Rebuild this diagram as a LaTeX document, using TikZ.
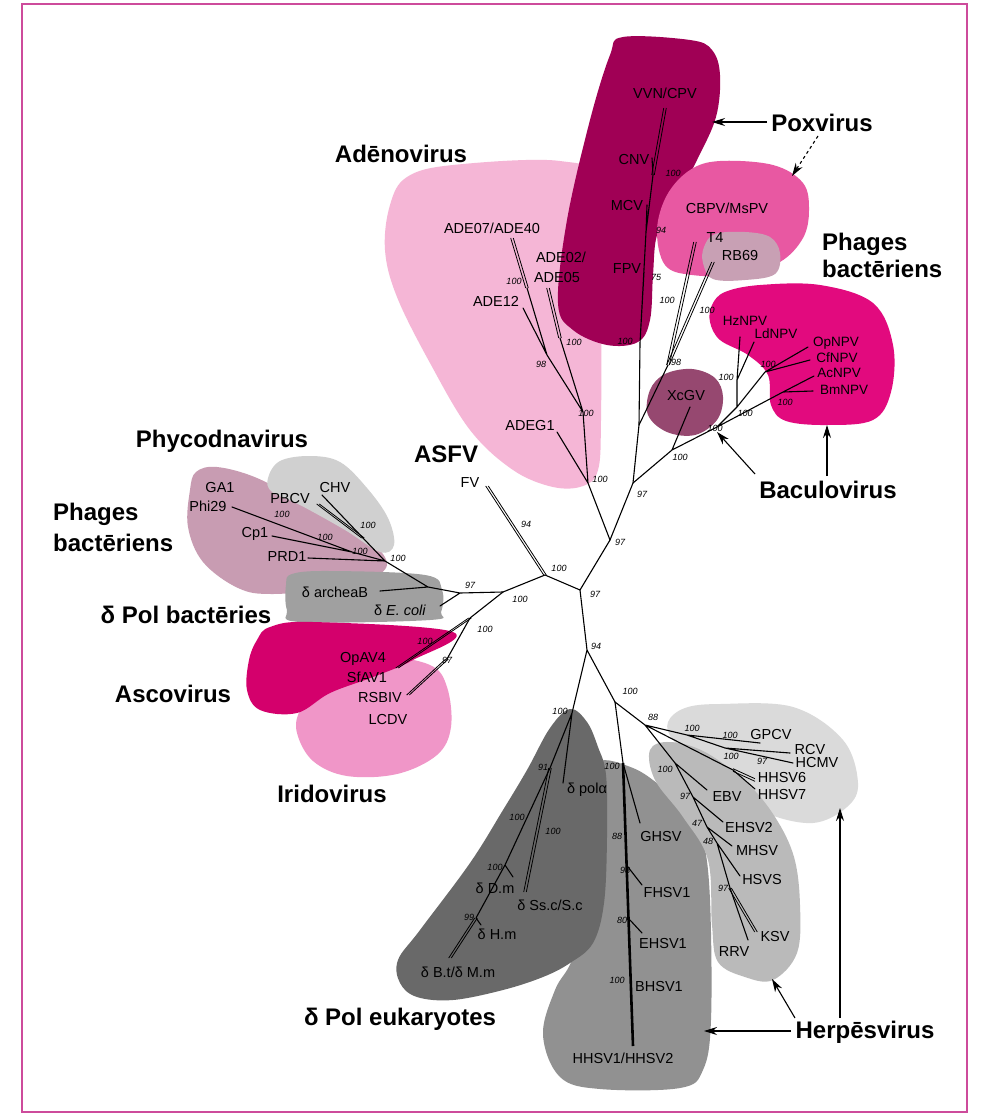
\documentclass[tikz,border=0pt]{standalone}
\usepackage{fontspec}
\setmainfont{Liberation Sans}
\usetikzlibrary{arrows.meta}
\definecolor{cAde}{RGB}{245,182,214}
\definecolor{cPox}{RGB}{160,0,85}
\definecolor{cCbp}{RGB}{232,88,162}
\definecolor{cTf}{RGB}{200,160,180}
\definecolor{cBac}{RGB}{226,10,126}
\definecolor{cXc}{RGB}{150,72,112}
\definecolor{cPhy}{RGB}{208,208,208}
\definecolor{cPhg}{RGB}{200,156,178}
\definecolor{cDpb}{RGB}{160,160,160}
\definecolor{cAsc}{RGB}{212,0,108}
\definecolor{cIri}{RGB}{240,150,200}
\definecolor{cEuk}{RGB}{105,105,105}
\definecolor{cAlp}{RGB}{145,145,145}
\definecolor{cBet}{RGB}{186,186,186}
\definecolor{cLig}{RGB}{218,218,218}
\definecolor{cFrame}{RGB}{205,75,155}
\newcommand{\dlx}[2]{\draw[twin] ([xshift=-1.3pt]#1) -- ([xshift=-1.3pt]#2); \draw[twin] ([xshift=1.3pt]#1) -- ([xshift=1.3pt]#2);}
\newcommand{\dly}[2]{\draw[twin] ([yshift=-1.3pt]#1) -- ([yshift=-1.3pt]#2); \draw[twin] ([yshift=1.3pt]#1) -- ([yshift=1.3pt]#2);}
\begin{document}
\begin{tikzpicture}[x=1pt,y=-1pt,
  tree/.style={line width=1.1pt,line cap=round},
  twin/.style={line width=0.8pt},
  thick2/.style={line width=2.6pt},
  bs/.style={font=\fontsize{9}{9}\selectfont\itshape,inner sep=0pt},
  leaf/.style={font=\fontsize{14.5}{14.5}\selectfont,inner sep=0pt},
  small/.style={font=\fontsize{13.5}{13.5}\selectfont,inner sep=0pt},
  big/.style={font=\fontsize{24}{28}\selectfont\bfseries,inner sep=0pt,anchor=base},
  arr/.style={line width=1.1pt,-{Stealth[length=13pt,width=8pt]}},
  blob/.style={smooth cycle,tension=0.6}]
\useasboundingbox (0,0) rectangle (987,1116);
\fill[white] (0,0) rectangle (987,1116);
\draw[cFrame,line width=2pt] (22,4) rectangle (967,1112);

% ---------- blobs ----------
\fill[cAde] plot[blob] coordinates {(390,205) (407,177) (453,165) (560,161) (598,185) (601,300) (601,420) (598,470) (583,486) (553,487) (513,470) (470,430) (430,363) (397,297) (385,250)};
\fill[cPox] plot[blob] coordinates {(623,37) (690,40) (712,50) (720,75) (716,117) (697,160) (673,207) (657,235) (653,275) (650,320) (638,342) (607,345) (573,330) (558,303) (567,220) (590,120) (610,55)};
\fill[cCbp] plot[blob] coordinates {(657,230) (667,195) (690,170) (720,161) (773,165) (803,183) (809,210) (803,238) (780,262) (740,275) (692,275) (665,265)};
\fill[cTf] plot[blob] coordinates {(704,247) (715,234) (745,232) (770,237) (780,253) (775,274) (745,280) (713,279) (703,263)};
\fill[cBac] plot[blob] coordinates {(712,305) (725,292) (760,285) (820,285) (873,303) (893,345) (891,392) (873,420) (827,425) (786,421) (771,405) (768,375) (748,355) (720,340) (710,322)};
\fill[cXc] plot[blob] coordinates {(650,390) (665,374) (692,369) (715,378) (723,397) (717,420) (695,435) (667,432) (648,415)};
\fill[cPhg] plot[blob] coordinates {(190,490) (196,472) (217,467) (257,478) (307,505) (350,530) (375,545) (387,565) (370,580) (340,588) (273,594) (238,588) (203,562) (188,527)};
\fill[cPhy] plot[blob] coordinates {(268,478) (280,461) (310,456) (340,462) (367,488) (388,518) (394,545) (380,552) (345,530) (300,505) (272,492)};
\fill[cDpb] plot[blob] coordinates {(292,574) (330,571) (425,575) (442,590) (441,612) (430,620) (300,622) (287,610) (286,585)};
\fill[cIri] plot[blob] coordinates {(300,710) (320,680) (347,666) (380,656) (430,665) (447,687) (451,727) (437,755) (397,774) (347,776) (313,761) (297,733)};
\fill[cAsc] plot[blob] coordinates {(257,640) (270,627) (313,622) (453,632) (413,660) (373,677) (330,693) (297,713) (260,710) (247,690) (249,660)};
\fill[cLig] plot[blob] coordinates {(668,722) (685,708) (720,704) (793,707) (843,740) (858,783) (847,807) (813,823) (767,813) (747,790) (700,762) (673,740)};
\fill[cAlp] plot[blob] coordinates {(598,762) (633,768) (662,787) (688,810) (703,840) (710,900) (711,1020) (703,1070) (680,1088) (600,1089) (560,1077) (543,1035) (555,990) (572,960) (590,900) (594,800)};
\fill[cBet] plot[blob] coordinates {(650,750) (670,742) (705,752) (747,783) (775,817) (794,857) (800,905) (797,953) (773,980) (745,977) (718,962) (712,925) (708,860) (683,817) (655,780)};
\fill[cEuk] plot[blob] coordinates {(570,709) (587,722) (598,747) (606,775) (607,837) (604,903) (593,943) (570,963) (543,977) (503,990) (453,1000) (417,997) (400,983) (398,960) (420,930) (470,863) (503,810) (527,770) (550,728)};

% ---------- tree coordinates ----------
\coordinate (C) at (610,540);  \coordinate (P) at (633,483);  \coordinate (q) at (639,425);
\coordinate (px1) at (640,343); \coordinate (px2) at (646,232); \coordinate (px3) at (653,175);
\coordinate (tVVN) at (665,108); \coordinate (tCNV) at (652,158); \coordinate (tMCV) at (647,205); \coordinate (tFPV) at (644,272);
\coordinate (t1) at (668,365); \coordinate (tT4) at (695,242); \coordinate (tRB) at (713,262);
\coordinate (b0) at (672,450); \coordinate (tXc) at (690,407); \coordinate (b1) at (717,427);
\coordinate (b2) at (737,407); \coordinate (b3) at (737,380); \coordinate (tHz) at (740,337); \coordinate (tLd) at (754,342);
\coordinate (b5) at (765,372); \coordinate (tOp) at (808,347); \coordinate (tCf) at (810,360);
\coordinate (b4) at (783,392); \coordinate (tAc) at (814,376); \coordinate (tBm) at (813,391);
\coordinate (ad0) at (588,483); \coordinate (tG1) at (557,432); \coordinate (ad1) at (583,412);
\coordinate (ad2) at (560,338); \coordinate (tA02) at (548,288); \coordinate (tA05) at (554,291);
\coordinate (ad3) at (547,355); \coordinate (tA12) at (523,308); \coordinate (ad4) at (527,288);
\coordinate (tA07) at (512,238); \coordinate (tA40) at (520,241);
\coordinate (B) at (580,590); \coordinate (A) at (545,575); \coordinate (tFV) at (487,486);
\coordinate (F) at (503,592); \coordinate (G) at (460,593); \coordinate (nl) at (428,587);
\coordinate (phy) at (385,561); \coordinate (ph1) at (363,538); \coordinate (tCHV) at (322,495); \coordinate (tPBCV) at (318,504);
\coordinate (ph3) at (352,552); \coordinate (tCp) at (272,536); \coordinate (tPhi) at (232,507); \coordinate (tPRD) at (308,558);
\coordinate (tArc) at (380,591); \coordinate (tEc) at (440,606);
\coordinate (H1) at (470,618); \coordinate (tOA) at (397,668); \coordinate (H3) at (447,659); \coordinate (tRS) at (408,695);
\coordinate (D) at (587,650); \coordinate (e0) at (572,713); \coordinate (E) at (615,702);
\coordinate (tpol) at (563,783); \coordinate (e1) at (550,768); \coordinate (tSs) at (525,892);
\coordinate (e4) at (505,865); \coordinate (tDm) at (513,877); \coordinate (e5) at (476,918);
\coordinate (tHm) at (481,925); \coordinate (tBt) at (450,958);
\coordinate (a1) at (623,763); \coordinate (tGH) at (640,823); \coordinate (a2) at (628,867); \coordinate (tFH) at (642,885);
\coordinate (a3) at (630,920); \coordinate (tEH) at (642,933); \coordinate (tHH) at (633,1046);
\coordinate (n88) at (645,725); \coordinate (g1) at (687,735); \coordinate (tGP) at (760,743);
\coordinate (g2) at (725,748); \coordinate (tRC) at (790,753); \coordinate (tHC) at (793,763);
\coordinate (g4) at (733,770); \coordinate (tH6) at (755,780); \coordinate (tH7) at (755,789);
\coordinate (h1) at (675,763); \coordinate (tEB) at (707,790); \coordinate (h2) at (693,797); \coordinate (tE2) at (723,822);
\coordinate (h3) at (707,827); \coordinate (tMH) at (732,846); \coordinate (h4) at (717,843); \coordinate (tHS) at (740,876);
\coordinate (h5) at (730,888); \coordinate (tKS) at (756,932); \coordinate (tRR) at (748,940);

% ---------- branches ----------
\draw[tree] (C) -- (P) (P) -- (q) (q) -- (px1) (px1) -- (tFPV) (px1) -- (px2) (px2) -- (tMCV) (px2) -- (px3) (px3) -- (tCNV);
\dlx{px3}{tVVN}
\draw[tree] (q) -- (t1);
\dlx{t1}{tT4} \dlx{t1}{tRB}
\draw[tree] (P) -- (b0) (b0) -- (tXc) (b0) -- (b1) (b1) -- (b2) (b2) -- (b3) (b3) -- (tHz) (b3) -- (tLd)
  (b2) -- (b5) (b5) -- (tOp) (b5) -- (tCf) (b1) -- (b4) (b4) -- (tAc) (b4) -- (tBm);
\draw[tree] (C) -- (ad0) (ad0) -- (tG1) (ad0) -- (ad1) (ad1) -- (ad2) (ad1) -- (ad3) (ad3) -- (tA12) (ad3) -- (ad4);
\dlx{ad2}{tA02} \dlx{ad4}{tA07}
\draw[tree] (C) -- (B) (B) -- (A) (A) -- (F) (F) -- (G) (G) -- (nl) (nl) -- (phy) (nl) -- (tArc) (G) -- (tEc)
  (phy) -- (ph1) (ph1) -- (tCHV) (phy) -- (ph3) (ph3) -- (tCp) (ph3) -- (tPhi) (phy) -- (tPRD);
\dlx{ph1}{tPBCV}
\dlx{A}{tFV}
\draw[tree] (F) -- (H1) (H1) -- (H3);
\dlx{H1}{tOA} \dlx{H3}{tRS}
\draw[tree] (B) -- (D) (D) -- (e0) (D) -- (E) (e0) -- (tpol) (e0) -- (e1) (e1) -- (e4) (e4) -- (tDm) (e4) -- (e5) (e5) -- (tHm);
\dlx{e1}{tSs} \dlx{e5}{tBt}
\draw[tree] (E) -- (a1) (a1) -- (tGH) (a2) -- (tFH) (a3) -- (tEH);
\draw[thick2] (a1) -- (tHH);
\draw[tree] (E) -- (n88) (n88) -- (g1) (g1) -- (tGP) (g1) -- (g2) (g2) -- (tRC) (g2) -- (tHC) (n88) -- (g4)
  (n88) -- (h1) (h1) -- (tEB) (h1) -- (h2) (h2) -- (tE2) (h2) -- (h3) (h3) -- (tMH) (h3) -- (h4) (h4) -- (tHS) (h4) -- (h5) (h5) -- (tRR);
\dly{g4}{tH6} \draw[tree] (g4) -- (tH7);
\dlx{h5}{tKS}

% ---------- bootstrap values ----------
\foreach \x/\y/\t in {673/173/100,661/230/94,656/277/75,667/300/100,707/310/100,625/341/100,676/362/98,
  768/364/100,726/377/100,785/402/100,745/413/100,715/428/100,680/457/100,
  514/281/100,574/342/100,541/364/98,586/413/100,600/479/100,
  642/494/97,620/542/97,595/594/97,559/568/100,526/524/94,520/599/100,470/585/97,485/629/100,447/660/97,425/641/100,
  282/514/100,368/525/100,325/537/100,360/551/100,398/558/100,
  596/646/94,630/691/100,653/717/88,692/728/100,730/735/100,731/756/100,762/761/97,665/769/100,685/796/97,697/823/47,708/841/48,723/888/97,
  612/766/100,617/836/88,625/870/98,622/920/80,617/980/100,
  560/711/100,543/767/91,517/817/100,553/831/100,495/867/100,469/917/99}
  \node[bs] (bv\x-\y) at (\x,\y) {\t};

% ---------- leaf labels ----------
\node[leaf] (LVVN) at (665,93) {VVN/CPV};
\node[leaf] (LCNV) at (634,160) {CNV};
\node[leaf] (LMCV) at (627,206) {MCV};
\node[leaf] (LFPV) at (627,269) {FPV};
\node[leaf] (LCBP) at (727,208) {CBPV/MsPV};
\node[leaf] (LT4) at (715,238) {T4};
\node[leaf] (LRB) at (740,256) {RB69};
\node[small] (LHz) at (745,321) {HzNPV};
\node[small] (LLd) at (776,334) {LdNPV};
\node[small] (LOp) at (836,343) {OpNPV};
\node[small] (LCf) at (837,358) {CfNPV};
\node[small] (LAc) at (839,373) {AcNPV};
\node[small] (LBm) at (844,390) {BmNPV};
\node[leaf] (LXc) at (686,396) {XcGV};
\node[leaf] (LA07) at (492,228) {ADE07/ADE40};
\node[leaf] (LA02) at (561,257) {ADE02/};
\node[leaf] (LA05) at (557,278) {ADE05};
\node[leaf] (LA12) at (496,301) {ADE12};
\node[leaf] (LG1) at (530,426) {ADEG1};
\node[leaf] (LFV) at (470,483) {FV};
\node[leaf] (LGA) at (220,488) {GA1};
\node[leaf] (LPhi) at (208,506) {Phi29};
\node[leaf] (LPB) at (290,499) {PBCV};
\node[leaf] (LCH) at (335,488) {CHV};
\node[leaf] (LCp) at (255,534) {Cp1};
\node[leaf] (LPR) at (287,557) {PRD1};
\node[leaf] (LArc) at (335,592) {δ archeaB};
\node[leaf] (LEc) at (400,610) {δ \textit{E. coli}};
\node[leaf] (LOA) at (363,659) {OpAV4};
\node[leaf] (LSf) at (367,677) {SfAV1};
\node[leaf] (LRS) at (380,697) {RSBIV};
\node[leaf] (LLC) at (388,719) {LCDV};
\node[leaf] (Lpol) at (587,790) {δ polα};
\node[leaf] (LDm) at (495,888) {δ D.m};
\node[leaf] (LSs) at (550,905) {δ Ss.c/S.c};
\node[leaf] (LHm) at (497,934) {δ H.m};
\node[leaf] (LBt) at (458,972) {δ B.t/δ M.m};
\node[leaf] (LGH) at (661,836) {GHSV};
\node[leaf] (LFH) at (667,892) {FHSV1};
\node[leaf] (LEH) at (663,943) {EHSV1};
\node[leaf] (LBH) at (659,986) {BHSV1};
\node[leaf] (LHH) at (623,1058) {HHSV1/HHSV2};
\node[leaf] (LGP) at (771,734) {GPCV};
\node[leaf] (LRC) at (810,749) {RCV};
\node[leaf] (LHC) at (817,762) {HCMV};
\node[leaf] (LH6) at (782,777) {HHSV6};
\node[leaf] (LH7) at (782,794) {HHSV7};
\node[leaf] (LEB) at (727,797) {EBV};
\node[leaf] (LE2) at (749,827) {EHSV2};
\node[leaf] (LMH) at (757,850) {MHSV};
\node[leaf] (LHS) at (762,879) {HSVS};
\node[leaf] (LKS) at (775,936) {KSV};
\node[leaf] (LRR) at (734,951) {RRV};

% ---------- group labels ----------
\node[big] (gPox) at (822,131) {Poxvirus};
\node[big] (gAde) at (401,162) {Adēnovirus};
\node[big,anchor=base west] (gPhA) at (822,250) {Phages};
\node[big,anchor=base west] (gPhB) at (822,277) {bactēriens};
\node[big] (gBac) at (828,498) {Baculovirus};
\node[big] (gPhy) at (222,447) {Phycodnavirus};
\node[big] (gAsf) at (446,462) {ASFV};
\node[big,anchor=base west] (gPlA) at (53,520) {Phages};
\node[big,anchor=base west] (gPlB) at (53,551) {bactēriens};
\node[big] (gDpb) at (186,623) {δ Pol bactēries};
\node[big] (gAsc) at (173,702) {Ascovirus};
\node[big] (gIri) at (332,802) {Iridovirus};
\node[big] (gEuk) at (400,1025) {δ Pol eukaryotes};
\node[big] (gHer) at (865,1038) {Herpēsvirus};

% ---------- arrows ----------
\coordinate (poxS) at (767,122); \coordinate (poxT) at (712,122);
\coordinate (poxS2) at (818,136); \coordinate (poxT2) at (792,176);
\draw[arr] (poxS) -- (poxT);
\draw[arr,dashed] (poxS2) -- (poxT2);
\coordinate (bacS) at (755,474); \coordinate (bacT) at (717,432);
\coordinate (bacS2) at (827,476); \coordinate (bacT2) at (827,425);
\draw[arr] (bacS) -- (bacT);
\draw[arr] (bacS2) -- (bacT2);
\coordinate (herS) at (791,1031); \coordinate (herT) at (704,1031);
\coordinate (herS2) at (795,1018); \coordinate (herT2) at (772,979);
\coordinate (herS3) at (840,1018); \coordinate (herT3) at (840,808);
\draw[arr] (herS) -- (herT);
\draw[arr] (herS2) -- (herT2);
\draw[arr] (herS3) -- (herT3);
\end{tikzpicture}
\end{document}
